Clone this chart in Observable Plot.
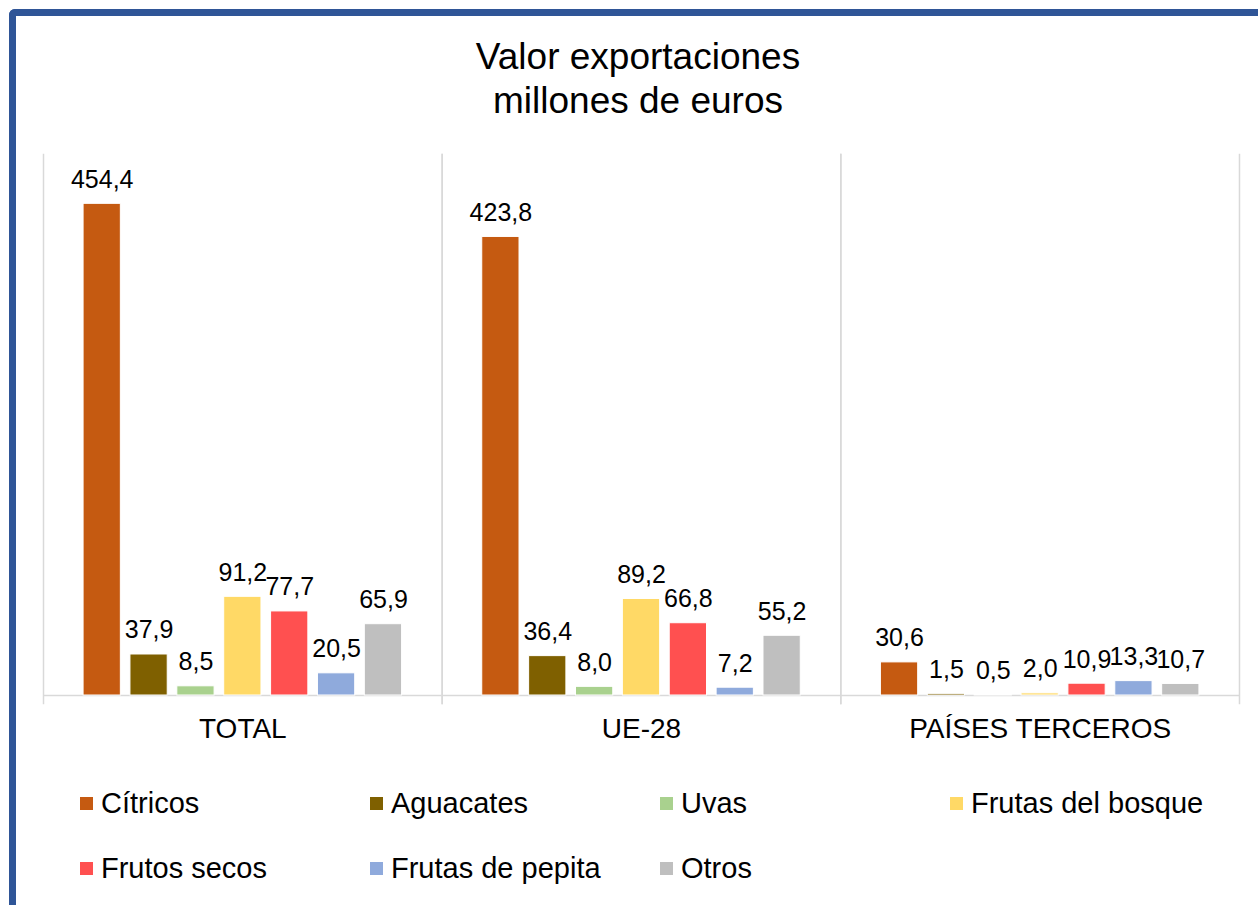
<!DOCTYPE html>
<html>
<head>
<meta charset="utf-8">
<script src="https://cdn.jsdelivr.net/npm/d3@7"></script>
<script src="https://cdn.jsdelivr.net/npm/@observablehq/plot@0.6"></script>
<style>
  html, body { margin: 0; padding: 0; background: #fff; overflow: hidden; }
  body { width: 1258px; height: 905px; position: relative; font-family: "Liberation Sans", Arial, sans-serif; color: #000; }
  #border { position: absolute; left: 9px; top: 9px; width: 1400px; height: 1100px; border-left: 7px solid #2F5597; border-top: 7px solid #2F5597; border-top-left-radius: 6px; box-sizing: border-box; z-index: 5; pointer-events: none; }
  #wrap { position: absolute; left: 0; top: 0; width: 1258px; z-index: 1; }
  #title { height: 130px; box-sizing: border-box; padding-top: 35px; text-align: center; font-size: 37px; line-height: 44px; padding-left: 18px; }
  #legend { display: grid; grid-template-columns: 290px 290px 290px 290px; padding-left: 80px; padding-top: 33px; row-gap: 35px; }
  .item { display: flex; align-items: center; font-size: 29px; line-height: 30px; white-space: nowrap; }
  .sw { width: 13px; height: 13px; margin-right: 8px; flex: none; }
  svg { display: block; }
</style>
</head>
<body>
<div id="border"></div>
<div id="wrap">
  <div id="title">Valor exportaciones<br>millones de euros</div>
  <div id="chart"></div>
  <div id="legend"></div>
</div>
<script>
const groups = ["TOTAL", "UE-28", "PAÍSES TERCEROS"];
const categories = ["Cítricos", "Aguacates", "Uvas", "Frutas del bosque", "Frutos secos", "Frutas de pepita", "Otros"];
const colors = ["#C55A11", "#7F6000", "#A9D18E", "#FFD966", "#FF5050", "#8FAADC", "#BFBFBF"];
const totalValues = [454.4, 37.9, 8.5, 91.2, 77.7, 20.5, 65.9];
const ue28Values = [423.8, 36.4, 8.0, 89.2, 66.8, 7.2, 55.2];
const tercerosValues = [30.6, 1.5, 0.5, 2.0, 10.9, 13.3, 10.7];

const seriesByGroup = [totalValues, ue28Values, tercerosValues];
const data = [];
groups.forEach((g, gi) => categories.forEach((c, ci) => data.push({group: g, cat: c, value: seriesByGroup[gi][ci]})));

const fmt = v => v.toFixed(1).replace(".", ",");
const font = "Liberation Sans, Arial, sans-serif";

const chart = Plot.plot({
  width: 1258,
  height: 625,
  marginLeft: 43,
  marginRight: 19,
  marginTop: 24,
  marginBottom: 60,
  style: {fontFamily: font, background: "transparent", color: "#000"},
  fx: {domain: groups, padding: 0, label: null, round: false},
  x: {domain: categories, paddingInner: 0.205, paddingOuter: 0.855, axis: null, round: false},
  y: {domain: [0, 500], axis: null},
  color: {domain: categories, range: colors},
  marks: [
    Plot.frame({anchor: "left", stroke: "#d9d9d9", strokeWidth: 1.5, insetBottom: -8}),
    Plot.frame({anchor: "right", stroke: "#d9d9d9", strokeWidth: 1.5, insetBottom: -8}),
    Plot.ruleY([0], {stroke: "#d9d9d9", strokeWidth: 1.5}),
    Plot.barY(data, {fx: "group", x: "cat", y: "value", fill: "cat", stroke: "white", strokeWidth: 1}),
    Plot.text(data, {fx: "group", x: "cat", y: "value", text: d => fmt(d.value), dy: -16, lineAnchor: "bottom", fontSize: 25, fill: "#000"}),
    Plot.axisFx({anchor: "bottom", tickSize: 0, tickPadding: 23, fontSize: 28, label: null, fill: "#000"})
  ]
});
document.getElementById("chart").appendChild(chart);

const legend = document.getElementById("legend");
categories.forEach((c, i) => {
  const item = document.createElement("div");
  item.className = "item";
  const sw = document.createElement("span");
  sw.className = "sw";
  sw.style.background = colors[i];
  const label = document.createElement("span");
  label.textContent = c;
  item.appendChild(sw);
  item.appendChild(label);
  legend.appendChild(item);
});
</script>
</body>
</html>
